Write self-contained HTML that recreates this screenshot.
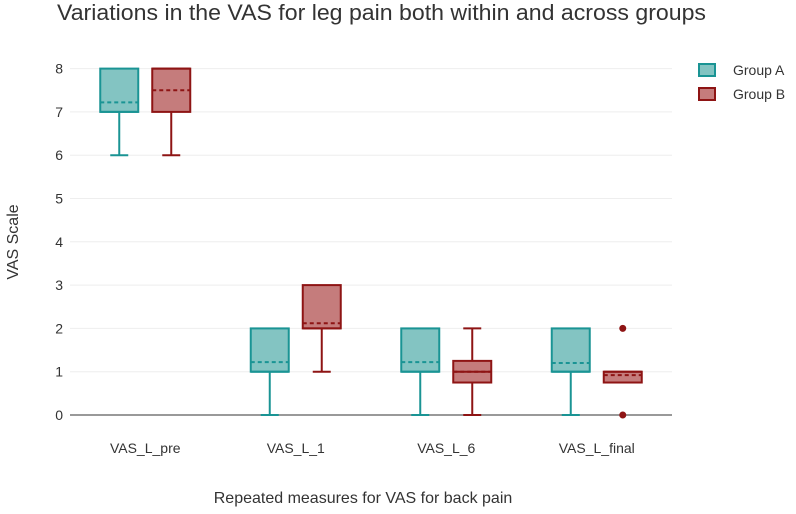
<!DOCTYPE html>
<html><head><meta charset="utf-8"><style>
body{margin:0;background:#fff}
svg{display:block;font-family:"Liberation Sans",Arial,sans-serif}
</style></head><body>
<svg id="chart" width="796" height="514" viewBox="0 0 796 514" xmlns="http://www.w3.org/2000/svg">
<text x="57" y="20" font-size="22" textLength="649" lengthAdjust="spacingAndGlyphs" fill="#333">Variations in the VAS for leg pain both within and across groups</text>
<g id="grid"></g>
<g id="axes"></g>
<g id="boxes"></g>
<text transform="translate(18,242) rotate(-90)" text-anchor="middle" font-size="16" fill="#333">VAS Scale</text>
<text x="363" y="503" text-anchor="middle" font-size="16" fill="#333">Repeated measures for VAS for back pain</text>
<g>
<g><rect x="699" y="64" width="16" height="12" fill="#83c4c2" stroke="#1a9494" stroke-width="2"/><text x="733" y="75" font-size="14" fill="#333">Group A</text></g>
<g><rect x="699" y="88" width="16" height="12" fill="#c57c7c" stroke="#8e1414" stroke-width="2"/><text x="733" y="99" font-size="14" fill="#333">Group B</text></g>
</g>
</svg>
<script>
const categories=["VAS_L_pre","VAS_L_1","VAS_L_6","VAS_L_final"];
const yTicks=[0,1,2,3,4,5,6,7,8];
// [lowerWhisker, q1, median, q3, upperWhisker, mean]
const groupA=[[6,7,7,8,8,7.22],[0,1,1,2,2,1.22],[0,1,1,2,2,1.22],[0,1,1,2,2,1.2]];
const groupB=[[6,7,8,8,8,7.5],[1,2,2,3,3,2.12],[0,0.75,1,1.25,2,1.0],[0.75,0.75,1,1,1,0.92]];
const outliersB=[[],[],[],[0,2]];
const x0=70,x1=672,y0=415,yUnit=43.3;
const ns="http://www.w3.org/2000/svg";
function X(i){return x0+(x1-x0)/categories.length*(i+0.5);}
function Y(v){return y0-v*yUnit;}
function mk(tag,attrs,parent){const e=document.createElementNS(ns,tag);for(const k in attrs)e.setAttribute(k,attrs[k]);parent.appendChild(e);return e;}
const grid=document.getElementById('grid'),axes=document.getElementById('axes'),boxes=document.getElementById('boxes');
yTicks.forEach(t=>{
  if(t>0){const l=mk('line',{x1:x0,x2:x1,y1:Y(t),y2:Y(t),stroke:'#eee','stroke-width':1},grid);
  
  }
  const tx=mk('text',{x:63,y:Y(t)+5,'text-anchor':'end','font-size':14,fill:'#333'},axes);
  tx.textContent=t;
  
  
});
const zl=mk('line',{x1:x0,x2:x1,y1:Y(0),y2:Y(0),stroke:'#999','stroke-width':2},axes);


categories.forEach((c,i)=>{
  const t=mk('text',{x:X(i),y:453,'text-anchor':'middle','font-size':14,fill:'#333'},axes);
  t.textContent=c;
  
  
});
function drawBox(d,cx,fill,stroke,name,outs){
  const g=mk('g',{},boxes);
  
  
  const w=38,cap=18;
  const [lo,q1,med,q3,hi,mean]=d;
  if(lo<q1){mk('line',{x1:cx,x2:cx,y1:Y(lo),y2:Y(q1),stroke,'stroke-width':2},g);mk('line',{x1:cx-cap/2,x2:cx+cap/2,y1:Y(lo),y2:Y(lo),stroke,'stroke-width':2},g);}
  if(hi>q3){mk('line',{x1:cx,x2:cx,y1:Y(hi),y2:Y(q3),stroke,'stroke-width':2},g);mk('line',{x1:cx-cap/2,x2:cx+cap/2,y1:Y(hi),y2:Y(hi),stroke,'stroke-width':2},g);}
  mk('rect',{x:cx-w/2,y:Y(q3),width:w,height:Math.max(Y(q1)-Y(q3),0.5),fill,stroke,'stroke-width':2},g);
  mk('line',{x1:cx-w/2,x2:cx+w/2,y1:Y(med),y2:Y(med),stroke,'stroke-width':2},g);
  mk('line',{x1:cx-w/2,x2:cx+w/2,y1:Y(mean),y2:Y(mean),stroke,'stroke-width':2,'stroke-dasharray':'4,3'},g);
  (outs||[]).forEach(o=>mk('circle',{cx,cy:Y(o),r:3.5,fill:stroke},g));
}
categories.forEach((c,i)=>{
  drawBox(groupA[i],X(i)-26,'#83c4c2','#1a9494','box-group-a-'+c,[]);
  drawBox(groupB[i],X(i)+26,'#c57c7c','#8e1414','box-group-b-'+c,outliersB[i]);
});
</script>
</body></html>
